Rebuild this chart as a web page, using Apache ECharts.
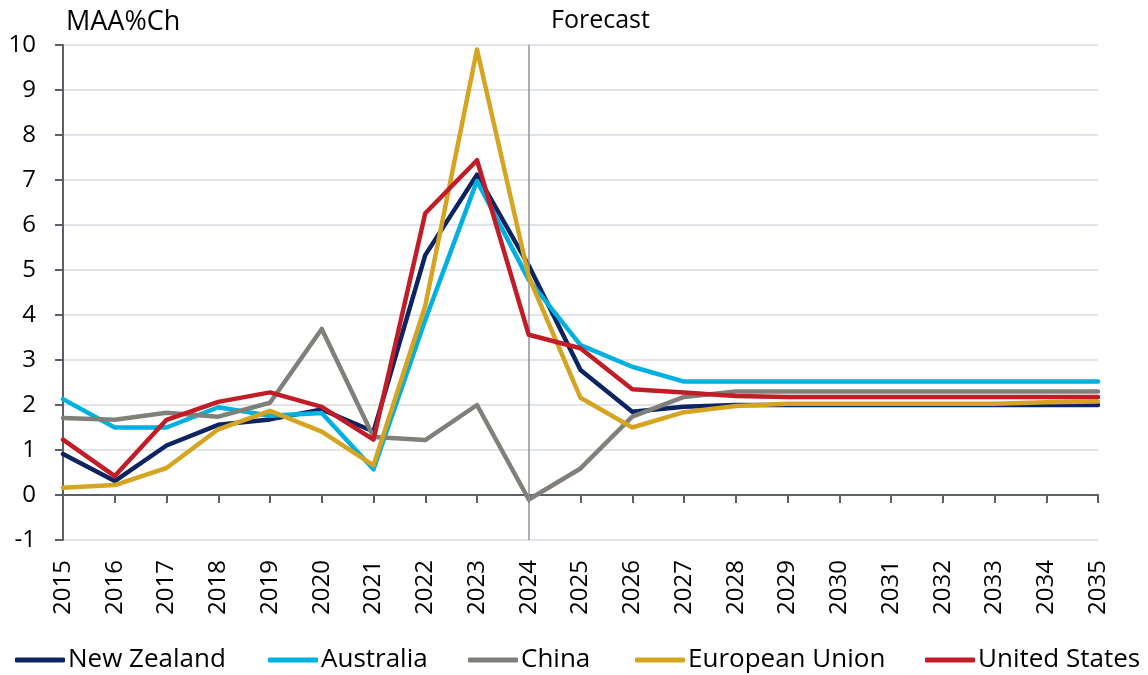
<!DOCTYPE html>
<html>
<head>
<meta charset="utf-8">
<script src="https://cdn.jsdelivr.net/npm/echarts@6/dist/echarts.min.js"></script>
<style>
  html, body { margin: 0; padding: 0; background: #ffffff; }
  #chart { width: 1148px; height: 675px; }
</style>
</head>
<body>
<div id="chart"></div>
<script>
// Inflation, annual average % change, with forecasts from 2024
const years = ['2015','2016','2017','2018','2019','2020','2021','2022','2023','2024','2025',
               '2026','2027','2028','2029','2030','2031','2032','2033','2034','2035'];

const newZealand     = [0.91, 0.31, 1.10, 1.56, 1.68, 1.90, 1.41, 5.33, 7.12, 5.10, 2.78, 1.85, 1.96, 2.00, 2.00, 2.00, 2.00, 2.00, 2.00, 2.00, 2.00];
const australia      = [2.13, 1.50, 1.50, 1.95, 1.76, 1.82, 0.57, 3.89, 6.98, 4.78, 3.33, 2.85, 2.52, 2.52, 2.52, 2.52, 2.52, 2.52, 2.52, 2.52, 2.52];
const china          = [1.71, 1.67, 1.83, 1.74, 2.05, 3.69, 1.29, 1.22, 2.00, -0.10, 0.59, 1.74, 2.18, 2.30, 2.30, 2.30, 2.30, 2.30, 2.30, 2.30, 2.30];
const europeanUnion  = [0.16, 0.22, 0.60, 1.46, 1.87, 1.41, 0.66, 4.20, 9.90, 4.85, 2.16, 1.50, 1.84, 1.98, 2.03, 2.03, 2.03, 2.03, 2.03, 2.06, 2.08];
const unitedStates   = [1.23, 0.42, 1.67, 2.07, 2.28, 1.96, 1.23, 6.26, 7.44, 3.56, 3.26, 2.35, 2.28, 2.20, 2.18, 2.18, 2.18, 2.18, 2.18, 2.18, 2.18];

const forecastStart = '2024';
const yTicks = { min: -1, max: 10, step: 1 };

const seriesDefs = [
  { name: 'New Zealand',    data: newZealand,    color: '#0c2461', legendLeft: 15 },
  { name: 'Australia',      data: australia,     color: '#00b0e0', legendLeft: 268 },
  { name: 'China',          data: china,         color: '#80807b', legendLeft: 468 },
  { name: 'European Union', data: europeanUnion, color: '#d5a521', legendLeft: 635 },
  { name: 'United States',  data: unitedStates,  color: '#c21c27', legendLeft: 925 }
];

const FONT = '"Open Sans", "Noto Sans", sans-serif';
const FONT_SIZE = 25;
const axisColor = '#5b6068';

const chart = echarts.init(document.getElementById('chart'), null, { renderer: 'canvas' });

const series = seriesDefs.map((s, i) => ({
  name: s.name,
  type: 'line',
  xAxisIndex: 0,
  yAxisIndex: 0,
  data: s.data,
  showSymbol: false,
  symbol: 'none',
  color: s.color,
  lineStyle: { width: 4.5, color: s.color, cap: 'round', join: 'round' },
  z: 2 + i,
  silent: true,
  animation: false
}));

// forecast divider
series[0].markLine = {
  silent: true,
  symbol: ['none', 'none'],
  label: { show: false },
  lineStyle: { color: '#8a939c', width: 1.5, type: 'solid' },
  data: [{ xAxis: forecastStart }],
  animation: false
};

// one legend block per series so each entry sits in its own slot
const legends = seriesDefs.map(s => ({
  left: s.legendLeft,
  top: 647,
  itemWidth: 50,
  itemHeight: 5,
  itemGap: 0,
  icon: 'roundRect',
  padding: 0,
  textStyle: { fontFamily: FONT, fontSize: FONT_SIZE + 1, color: '#000000', padding: [0, 0, 0, -2] },
  data: [s.name]
}));

chart.setOption({
  animation: false,
  backgroundColor: '#ffffff',
  grid: { left: 63, right: 50, top: 45, bottom: 135, containLabel: false },
  graphic: [
    { type: 'text', x: 66, y: 22,
      style: { text: 'MAA%Ch', font: (FONT_SIZE + 2) + 'px ' + FONT, fill: '#000000', verticalAlign: 'middle' } },
    { type: 'text', x: 551, y: 21,
      style: { text: 'Forecast', font: FONT_SIZE + 'px ' + FONT, fill: '#000000', verticalAlign: 'middle' } }
  ],
  legend: legends,
  xAxis: [
    {
      // axis line through zero with ticks
      type: 'category',
      data: years,
      boundaryGap: false,
      position: 'bottom',
      axisLine: { onZero: true, lineStyle: { color: axisColor, width: 2 } },
      axisTick: { show: true, inside: false, length: 8, alignWithLabel: true, lineStyle: { color: axisColor, width: 2 } },
      axisLabel: { show: false },
      splitLine: { show: false }
    },
    {
      // year labels along the bottom of the plot
      type: 'category',
      data: years,
      boundaryGap: false,
      position: 'bottom',
      axisLine: { show: false, onZero: false },
      axisTick: { show: false },
      axisLabel: {
        show: true, rotate: 90, margin: 20, interval: 0,
        fontFamily: FONT, fontSize: FONT_SIZE - 1, color: '#000000'
      },
      splitLine: { show: false }
    }
  ],
  yAxis: {
    type: 'value',
    min: yTicks.min,
    max: yTicks.max,
    interval: yTicks.step,
    axisLine: { show: true, lineStyle: { color: axisColor, width: 2 } },
    axisTick: { show: true, inside: false, length: 8, lineStyle: { color: axisColor, width: 2 } },
    axisLabel: { margin: 27, fontFamily: FONT, fontSize: FONT_SIZE - 1, color: '#000000' },
    splitLine: { show: true, lineStyle: { color: '#e1e4e8', width: 2 } }
  },
  series: series
});
</script>
</body>
</html>
